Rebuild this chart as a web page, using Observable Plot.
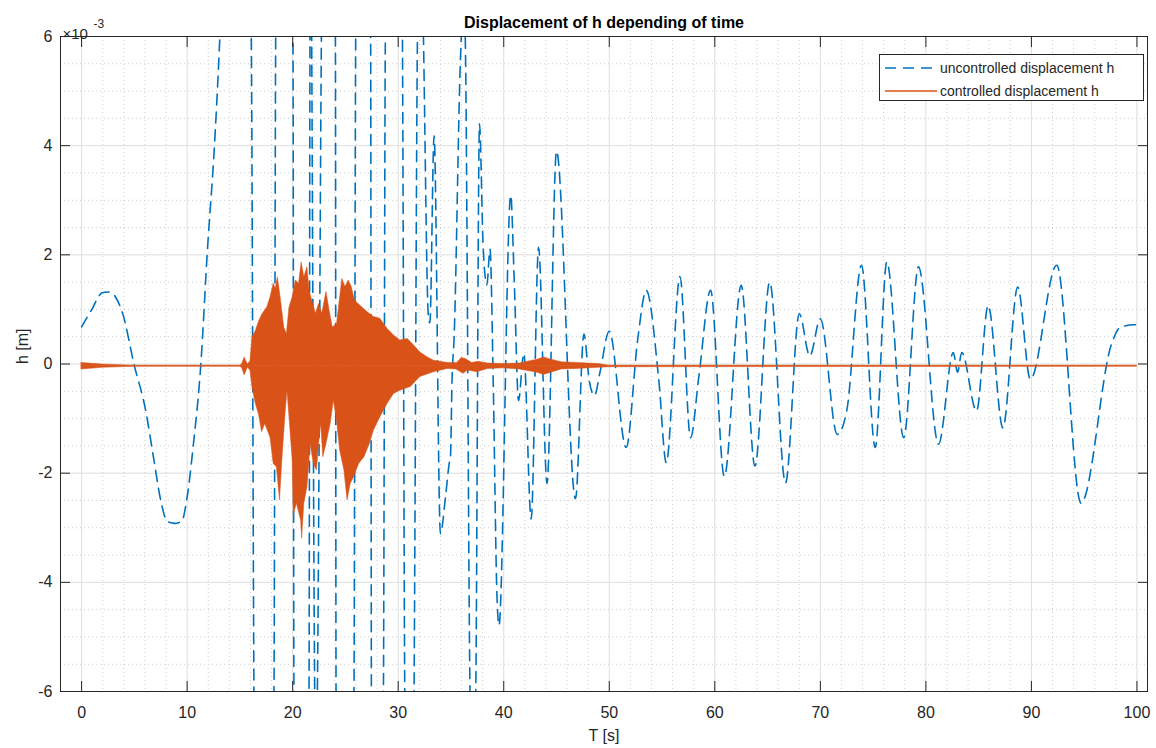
<!DOCTYPE html>
<html><head><meta charset="utf-8">
<script src="https://cdn.jsdelivr.net/npm/d3@7"></script>
<script src="https://cdn.jsdelivr.net/npm/@observablehq/plot@0.6"></script>
<style>
html,body{margin:0;padding:0;background:#fff;}
#wrap{position:relative;width:1156px;height:748px;font-family:"Liberation Sans",Arial,sans-serif;}
#legend{position:absolute;left:879px;top:54px;width:265px;height:47px;border:1px solid #262626;background:#fff;font-size:14px;color:#262626;box-sizing:border-box;}
.row{position:absolute;left:4px;height:16px;display:flex;align-items:center;white-space:nowrap;}
.row svg{margin-right:2px;}
</style></head>
<body><div id="wrap"></div>
<script>
// ---- data (h in units of 1e-3 m) ----
const uncontrolledTime = [0.0,0.5,1.0,1.5,1.9,2.5,2.9,3.3,3.9,4.96,6.07,6.86,7.5,8.1,8.8,9.5,9.9,10.6,11.3,11.9,12.6,13.0,13.1,14.6,16.08,16.33,17.3,18.23,18.39,19.2,20.03,20.12,20.8,21.55,21.64,21.72,21.8,22.09,22.2,22.34,22.72,23.4,24.05,24.11,25.0,25.81,25.97,26.7,27.39,27.46,28.0,28.6,28.78,29.6,30.4,30.62,31.05,31.5,31.82,32.1,32.39,32.85,33.0,33.4,34.0,34.5,34.85,34.95,35.1,35.3,35.9,36.2,36.35,36.8,37.05,37.35,37.7,38.05,38.4,38.7,39.0,39.35,39.55,40.66,41.0,41.4,41.9,42.6,43.3,44.1,45.0,46.8,47.6,48.1,48.6,49.1,50.0,51.6,52.7,53.5,54.7,55.4,56.7,57.7,58.5,59.6,60.9,62.5,63.8,65.2,66.7,68.0,69.0,70.0,71.6,72.5,73.9,75.2,76.3,77.9,79.3,81.2,82.6,83.0,83.4,84.8,85.9,87.3,88.7,89.9,92.4,94.7,97.6,98.4,99.7,100];
const uncontrolledH = [0.68,0.85,1.01,1.2,1.3,1.32,1.3,1.2,0.92,0.0,-0.85,-1.77,-2.5,-2.88,-2.92,-2.88,-2.56,-1.46,0.0,2.02,4.04,5.56,6.0,22,6,-6,-22,-6,6,20,6,-6,-18,-6,6,9,6,-6,-7.5,-6,6,18,6,-6,-20,-6,6,18,6,-6,-16,-6,6,18,6,-6,-12,-6,6,9,6,0.9,0.75,4.18,-3.11,-2.4,-1.8,-1.7,-0.3,0.5,5.6,6.6,6,-6,-8.5,-6,4.4,2.14,1.45,2.1,-0.3,-4.2,-4.79,3.09,1.5,-0.67,0.19,-2.84,2.14,-2.19,3.9,-2.47,0.55,-0.3,-0.58,-0.17,0.6,-1.53,0.46,1.35,-0.31,-1.81,1.6,-1.35,-0.21,1.35,-2.06,1.44,-1.87,1.5,-2.18,0.92,0.15,0.83,-1.29,-0.86,1.81,-1.53,1.87,-1.35,1.78,-1.47,0.21,-0.15,0.21,-0.86,1.07,-1.17,1.41,-0.28,1.81,-2.55,0.37,0.67,0.72,0.72];

const controlledBaseline = -0.04;
const controlledUpperTime = [0,2,5,15.0,15.2,15.45,15.75,16.0,16.18,16.5,16.8,17.1,17.6,17.9,18.2,18.4,18.6,18.9,19.2,19.45,19.7,20.0,20.3,20.6,20.85,21.1,21.4,21.6,21.9,22.2,22.5,22.8,23.2,23.5,23.8,24.2,24.5,24.7,25.0,25.3,25.6,25.9,26.4,27.1,27.7,28.3,29.0,29.6,30.2,30.9,31.5,32.1,32.8,33.4,34.7,35.6,36.0,36.4,37.0,37.6,38.5,40.0,41.5,43.2,43.8,44.5,45.5,47.0,49.0,50.0,100];
const controlledUpper = [0.02,-0.01,-0.03,-0.03,-0.01,0.12,-0.01,0.05,0.49,0.6,0.77,0.9,1.04,1.22,1.47,1.38,1.59,1.16,0.67,0.55,1.04,1.22,1.53,1.47,1.86,1.59,1.77,1.34,1.13,0.92,1.1,0.92,1.32,0.98,0.67,0.73,1.22,1.56,1.41,1.53,1.41,1.16,1.07,0.95,0.86,0.83,0.64,0.52,0.43,0.46,0.34,0.21,0.12,0.06,0.02,0.02,0.11,0.09,0.02,0.04,0.01,0.0,0.01,0.08,0.12,0.08,0.03,0.02,0.0,-0.03,-0.03];
const controlledLowerTime = [0,2,5,15.0,15.2,15.45,15.75,16.0,16.18,16.5,16.8,17.1,17.4,17.9,18.2,18.5,18.8,19.0,19.3,19.5,19.7,20.0,20.1,20.4,20.8,20.9,21.1,21.4,21.7,22.0,22.3,22.5,22.7,22.9,23.2,23.6,23.9,24.2,24.5,24.9,25.2,25.5,25.8,26.3,26.8,27.3,27.7,28.3,29.0,29.6,30.2,31.2,32.1,33.4,34.7,35.5,36.2,36.6,37.5,38.5,40.0,41.5,43.2,43.8,44.5,45.5,47.0,49.0,50.0,100];
const controlledLower = [-0.1,-0.07,-0.05,-0.05,-0.07,-0.21,-0.07,-0.12,-0.42,-0.73,-0.92,-1.25,-1.1,-1.35,-1.83,-1.89,-2.5,-1.83,-0.98,-0.49,-0.98,-1.77,-2.77,-2.56,-2.87,-3.2,-2.56,-2.26,-1.47,-1.83,-1.95,-1.47,-1.1,-1.71,-1.47,-1.1,-0.67,-1.04,-1.59,-1.95,-2.5,-2.2,-2.08,-1.83,-1.71,-1.47,-1.22,-0.98,-0.73,-0.55,-0.49,-0.42,-0.24,-0.15,-0.09,-0.1,-0.18,-0.12,-0.15,-0.09,-0.08,-0.1,-0.16,-0.2,-0.16,-0.1,-0.09,-0.07,-0.06,-0.05,-0.05];

const xTicks = [0,10,20,30,40,50,60,70,80,90,100];
const yTicks = [-6,-4,-2,0,2,4,6];
const xMinorStep = 2;
const yMinorStep = 0.5;
const seriesNames = ["uncontrolled displacement h", "controlled displacement h"];
const titleText = "Displacement of h depending of time";
const xLabel = "T [s]";
const yLabel = "h [m]";
const yExponent = "-3";

const blue = "#0072BD", orange = "#D95319", ink = "#262626";

const uncontrolled = uncontrolledTime.map((t, i) => ({t, h: uncontrolledH[i]}));
const upper = controlledUpperTime.map((t, i) => ({t, h: controlledUpper[i]}));
const lower = controlledLowerTime.map((t, i) => ({t, h: controlledLower[i]}));

const xMinor = d3.range(-2, 101.01, xMinorStep).filter(v => !xTicks.includes(v));
const yMinor = d3.range(-6, 6.001, yMinorStep).filter(v => !yTicks.includes(v));

const fmt = d => String(d);

const chart = Plot.plot({
  width: 1156, height: 748,
  marginLeft: 60, marginRight: 9, marginTop: 36, marginBottom: 57,
  style: {fontFamily: '"Liberation Sans", Arial, sans-serif', background: "#fff"},
  x: {domain: [-2, 101]},
  y: {domain: [-6, 6]},
  marks: [
    Plot.gridX(xMinor, {stroke: "#cdcdcd", strokeOpacity: 1, strokeDasharray: "1,3"}),
    Plot.gridY(yMinor, {stroke: "#cdcdcd", strokeOpacity: 1, strokeDasharray: "1,3"}),
    Plot.gridX(xTicks, {stroke: "#dedede", strokeOpacity: 1}),
    Plot.gridY(yTicks, {stroke: "#dedede", strokeOpacity: 1}),
    Plot.line(uncontrolled, {x: "t", y: "h", stroke: blue, strokeWidth: 1.6, strokeDasharray: "11,7", curve: "monotone-x", clip: true}),
    Plot.areaY(upper, {x: "t", y1: controlledBaseline, y2: "h", fill: orange, stroke: orange, strokeWidth: 0.5, clip: true}),
    Plot.areaY(lower, {x: "t", y1: controlledBaseline, y2: "h", fill: orange, stroke: orange, strokeWidth: 0.5, clip: true}),
    Plot.frame({stroke: ink, strokeWidth: 1}),
    Plot.axisX(xTicks, {anchor: "bottom", tickSize: -10, tickPadding: 25, fontSize: 16, tickFormat: fmt, label: null, color: ink}),
    Plot.axisX(xTicks, {anchor: "top", tickSize: -10, tickFormat: () => "", label: null, color: ink}),
    Plot.axisY(yTicks, {anchor: "left", tickSize: -10, tickPadding: 18, fontSize: 16, tickFormat: fmt, label: null, color: ink}),
    Plot.axisY(yTicks, {anchor: "right", tickSize: -10, tickFormat: () => "", label: null, color: ink}),
    Plot.text([titleText], {frameAnchor: "top", dy: -20, fontSize: 16, fontWeight: "bold", fill: "#000"}),
    Plot.text([xLabel], {frameAnchor: "bottom", dy: 49, fontSize: 16, fill: ink}),
    Plot.text([yLabel], {frameAnchor: "left", dx: -38, rotate: -90, fontSize: 16, fill: ink}),
    Plot.text(["×10"], {frameAnchor: "top-left", dx: 2, dy: -8, fontSize: 15, textAnchor: "start", fill: ink}),
    Plot.text([yExponent], {frameAnchor: "top-left", dx: 33, dy: -17, fontSize: 12, textAnchor: "start", fill: ink})
  ]
});
const wrap = document.getElementById("wrap");
wrap.appendChild(chart);

const legend = document.createElement("div");
legend.id = "legend";
legend.innerHTML = `
<div class="row" style="top:5px"><svg width="54" height="10"><line x1="1" y1="5" x2="53" y2="5" stroke="${blue}" stroke-width="1.6" stroke-dasharray="11,7"/></svg><span>${seriesNames[0]}</span></div>
<div class="row" style="top:28px"><svg width="54" height="10"><line x1="1" y1="5" x2="53" y2="5" stroke="${orange}" stroke-width="1.4"/></svg><span>${seriesNames[1]}</span></div>`;
wrap.appendChild(legend);
</script>
</body></html>
